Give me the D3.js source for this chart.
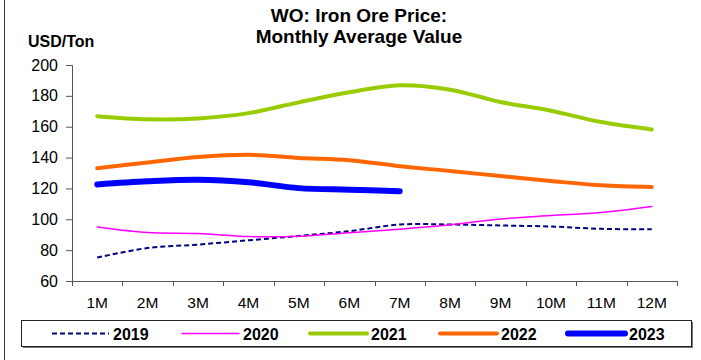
<!DOCTYPE html>
<html>
<head>
<meta charset="utf-8">
<script src="https://cdn.jsdelivr.net/npm/d3@7/dist/d3.min.js"></script>
<style>
  html, body { margin: 0; padding: 0; background: #fff; }
  svg { display: block; font-family: "Liberation Sans", Arial, sans-serif; }
</style>
</head>
<body>
<svg id="chart" width="701" height="360"></svg>
<script>
// Monthly average iron ore price, USD per ton
const months = ["1M","2M","3M","4M","5M","6M","7M","8M","9M","10M","11M","12M"];
const yTicks = [60, 80, 100, 120, 140, 160, 180, 200];

const v2019 = [75.2, 81.4, 83.6, 86.4, 89.2, 92.3, 96.6, 96.6, 96.0, 95.3, 93.8, 93.5];
const v2020 = [95.0, 91.4, 90.8, 88.8, 89.0, 91.3, 93.6, 96.4, 100.2, 102.4, 104.4, 108.3];
const v2021 = [166.8, 164.8, 165.4, 168.8, 175.8, 182.3, 186.9, 184.0, 176.0, 170.4, 163.0, 158.2];
const v2022 = [133.1, 136.8, 140.3, 141.8, 139.8, 138.3, 134.4, 131.3, 128.0, 124.8, 122.0, 120.9];
const v2023 = [122.6, 124.6, 125.6, 124.0, 120.2, 119.2, 118.2];

const seriesNames = ["2019", "2020", "2021", "2022", "2023"];
const seriesValues = [v2019, v2020, v2021, v2022, v2023];
const seriesStyle = [
  { color: "#000080", width: 2, dash: "5,3" },
  { color: "#ff00ff", width: 1.5, dash: null },
  { color: "#99cc00", width: 4, dash: null },
  { color: "#ff6600", width: 4, dash: null },
  { color: "#0000ff", width: 6, dash: null }
];

const svg = d3.select("#chart");
const plot = { left: 72, right: 677, top: 65, bottom: 281 };

const x = d3.scaleBand().domain(months).range([plot.left, plot.right]);
const y = d3.scaleLinear().domain([60, 200]).range([plot.bottom, plot.top]);

// Outer frame edge on the left
svg.append("line")
  .attr("x1", 4.5).attr("x2", 4.5).attr("y1", 0).attr("y2", 360)
  .attr("stroke", "#333").attr("stroke-width", 1);

// Title
const title = svg.append("text")
  .attr("text-anchor", "middle")
  .attr("font-weight", "bold")
  .attr("font-size", "19px")
  .attr("fill", "#000");
title.append("tspan").attr("x", 359).attr("y", 22).text("WO: Iron Ore Price:");
title.append("tspan").attr("x", 359).attr("y", 43).text("Monthly Average Value");

// Unit label
svg.append("text")
  .attr("x", 28).attr("y", 47)
  .attr("font-weight", "bold").attr("font-size", "16px")
  .text("USD/Ton");

// Y axis
const yAxis = d3.axisLeft(y).tickValues(yTicks).tickSize(6).tickPadding(8);
const gy = svg.append("g").attr("transform", `translate(${plot.left},0)`).call(yAxis);
gy.select(".domain").attr("stroke", "#555");
gy.selectAll(".tick line").attr("stroke", "#555");
gy.selectAll(".tick text").attr("font-size", "16px").attr("fill", "#000")
  .attr("font-family", "Liberation Sans, Arial, sans-serif");

// X axis with tick marks at band edges
const gx = svg.append("g").attr("transform", `translate(0,${plot.bottom})`);
gx.append("line")
  .attr("x1", plot.left).attr("x2", plot.right)
  .attr("y1", 0.5).attr("y2", 0.5)
  .attr("stroke", "#555");
const edges = months.map(m => x(m)).concat([plot.right]);
gx.selectAll("line.edge").data(edges).enter().append("line")
  .attr("class", "edge")
  .attr("x1", d => Math.round(d) + 0.5).attr("x2", d => Math.round(d) + 0.5)
  .attr("y1", 0).attr("y2", 5)
  .attr("stroke", "#555");
gx.selectAll("text").data(months).enter().append("text")
  .attr("x", d => x(d) + x.bandwidth() / 2)
  .attr("y", 27)
  .attr("text-anchor", "middle")
  .attr("font-size", "15.5px")
  .text(d => d);

// Series lines
const line = d3.line()
  .x((d, i) => x(months[i]) + x.bandwidth() / 2)
  .y(d => y(d))
  .curve(d3.curveCatmullRom.alpha(0.5));

seriesValues.forEach((vals, k) => {
  const s = seriesStyle[k];
  svg.append("path")
    .datum(vals)
    .attr("d", line)
    .attr("fill", "none")
    .attr("stroke", s.color)
    .attr("stroke-width", s.width)
    .attr("stroke-linecap", s.dash ? "butt" : "round")
    .attr("stroke-linejoin", "round")
    .attr("stroke-dasharray", s.dash);
});

// Legend
const legend = svg.append("g");
legend.append("rect")
  .attr("x", 23).attr("y", 322).attr("width", 670).attr("height", 26)
  .attr("fill", "#777");
legend.append("rect")
  .attr("x", 21.5).attr("y", 320.5).attr("width", 670).attr("height", 26)
  .attr("fill", "#fff").attr("stroke", "#222").attr("stroke-width", 1);

const legendX = [52, 182, 310, 440, 568];
seriesNames.forEach((name, k) => {
  const s = seriesStyle[k];
  const lx = legendX[k];
  legend.append("line")
    .attr("x1", lx).attr("x2", lx + 57)
    .attr("y1", 333.5).attr("y2", 333.5)
    .attr("stroke", s.color)
    .attr("stroke-width", s.width)
    .attr("stroke-linecap", s.dash ? "butt" : "round")
    .attr("stroke-dasharray", s.dash);
  legend.append("text")
    .attr("x", lx + 61).attr("y", 339.5)
    .attr("font-weight", "bold").attr("font-size", "16px")
    .text(name);
});
</script>
</body>
</html>
